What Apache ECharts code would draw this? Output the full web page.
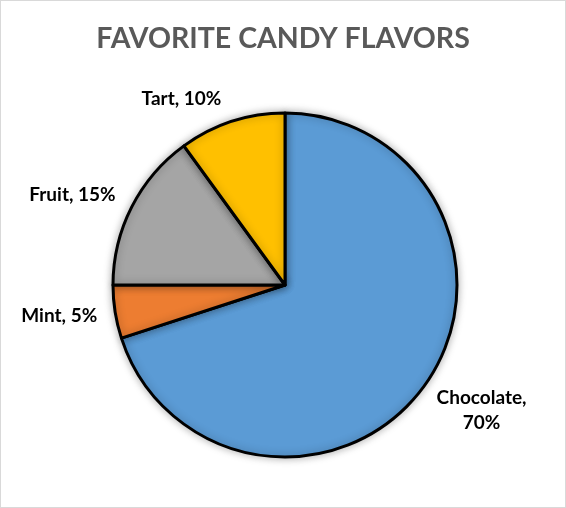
<!DOCTYPE html>
<html>
<head>
<meta charset="utf-8">
<script src="https://cdn.jsdelivr.net/npm/echarts@6/dist/echarts.min.js"></script>
<style>
  html, body { margin: 0; padding: 0; background: #fff; }
  #main { width: 564px; height: 506px; border: 1px solid #d9d9d9; }
</style>
</head>
<body>
<div id="main"></div>
<script>
// candy flavors, percent share
var flavors = ['Chocolate', 'Mint', 'Fruit', 'Tart'];
var shares = [70, 5, 15, 10];
var colors = ['#5b9bd5', '#ed7d31', '#a5a5a5', '#ffc000'];

// small nudges so labels sit where Excel put them
var labelNudge = [[-7, 20], [3, 3], [4, -8], [5, -15]];

var myChart = echarts.init(document.getElementById('main'));

var pieData = flavors.map(function (name, i) {
    return { name: name, value: shares[i], itemStyle: { color: colors[i] } };
});

var option = {
    title: {
        text: 'FAVORITE CANDY FLAVORS',
        left: 'center',
        top: 18,
        textStyle: { fontFamily: 'Lato', fontWeight: 'bold', fontSize: 28.5, color: '#595959' }
    },
    series: [
        {
            type: 'pie',
            center: [284, 284],
            radius: 172,
            startAngle: 90,
            clockwise: true,
            animation: false,
            data: pieData,
            itemStyle: {
                borderColor: '#000',
                borderWidth: 3,
                shadowBlur: 8,
                shadowColor: 'rgba(0,0,0,0.3)'
            },
            label: {
                show: true,
                position: 'outside',
                fontFamily: 'Lato',
                fontWeight: 'bold',
                fontSize: 19,
                color: '#000',
                formatter: function (p) {
                    if (p.name.length > 6) {
                        return '{t|' + p.name + ',}\n{c|' + p.value + '%}';
                    }
                    return '{t|' + p.name + ', ' + p.value + '%}';
                },
                rich: {
                    t: { fontFamily: 'Lato', fontWeight: 'bold', fontSize: 19, color: '#000', lineHeight: 25 },
                    c: { fontFamily: 'Lato', fontWeight: 'bold', fontSize: 19, color: '#000', lineHeight: 25, align: 'center' }
                }
            },
            labelLine: { show: false, length: 8, length2: 8 },
            labelLayout: function (p) {
                var n = labelNudge[p.dataIndex];
                return { dx: n[0], dy: n[1] };
            }
        }
    ]
};

myChart.setOption(option);
</script>
</body>
</html>
